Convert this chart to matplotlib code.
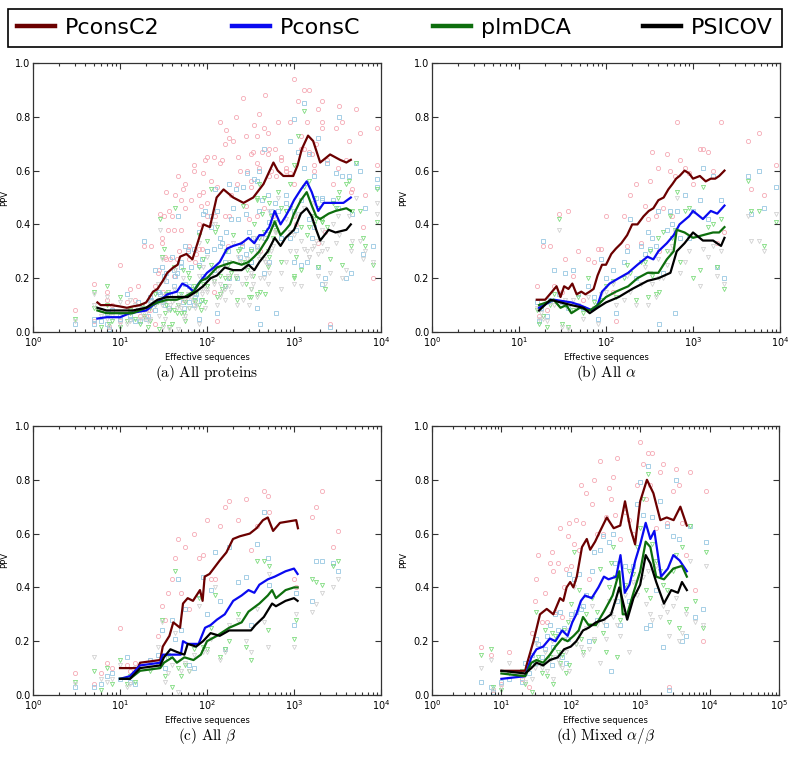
import numpy as np
import matplotlib
matplotlib.use('Agg')
import matplotlib.pyplot as plt
from matplotlib.lines import Line2D

# ---- per-protein scatter values: effective sequences and PPV of each method ----
# all-alpha proteins
alpha_neff = [16, 17, 18, 19, 21, 23, 25, 29, 31, 34, 37, 42, 48, 55, 62, 72, 80, 88, 100, 120,
              130, 160, 175, 190, 220, 250, 280, 300, 320, 340, 380, 400, 410, 450, 500, 540, 580, 620, 660, 700,
              800, 900, 1000, 1200, 1300, 1500, 1700, 1900, 2100, 2300, 4300, 4700, 5800, 6500, 9000]
alpha_pconsc2 = [0.17, 0.06, 0.10, 0.32, 0.08, 0.32, 0.17, 0.44, 0.15, 0.27, 0.45, 0.21, 0.30, 0.12, 0.27, 0.26, 0.31, 0.31, 0.43, 0.15,
                 0.04, 0.43, 0.32, 0.51, 0.55, 0.33, 0.47, 0.42, 0.56, 0.67, 0.43, 0.61, 0.30, 0.46, 0.66, 0.60, 0.43, 0.58, 0.78, 0.64,
                 0.61, 0.59, 0.55, 0.68, 0.68, 0.67, 0.60, 0.33, 0.78, 0.37, 0.71, 0.53, 0.74, 0.51, 0.62]
alpha_pconsc = [0.11, 0.04, 0.09, 0.34, 0.06, 0.12, 0.23, 0.14, 0.11, 0.22, 0.09, 0.23, 0.14, 0.09, 0.17, 0.13, 0.05, 0.27, 0.20, 0.23,
                0.07, 0.26, 0.30, 0.42, 0.20, 0.32, 0.29, 0.37, 0.31, 0.35, 0.32, 0.45, 0.03, 0.22, 0.38, 0.45, 0.40, 0.07, 0.45, 0.35,
                0.51, 0.35, 0.45, 0.49, 0.61, 0.42, 0.58, 0.24, 0.49, 0.20, 0.58, 0.44, 0.60, 0.46, 0.54]
alpha_plmdca = [0.08, 0.03, 0.10, 0.06, 0.02, 0.10, 0.14, 0.42, 0.03, 0.10, 0.02, 0.08, 0.13, 0.07, 0.20, 0.11, 0.10, 0.12, 0.17, 0.19,
                0.13, 0.20, 0.25, 0.22, 0.12, 0.26, 0.26, 0.13, 0.30, 0.21, 0.14, 0.35, 0.15, 0.37, 0.30, 0.43, 0.35, 0.38, 0.52, 0.26,
                0.45, 0.46, 0.20, 0.23, 0.54, 0.39, 0.40, 0.24, 0.42, 0.16, 0.56, 0.45, 0.45, 0.32, 0.41]
alpha_psicov = [0.09, 0.05, 0.07, 0.05, 0.04, 0.11, 0.10, 0.38, 0.02, 0.12, 0.01, 0.12, 0.10, 0.05, 0.13, 0.09, 0.03, 0.14, 0.15, 0.18,
                0.10, 0.12, 0.21, 0.15, 0.10, 0.18, 0.24, 0.10, 0.22, 0.18, 0.13, 0.27, 0.20, 0.20, 0.25, 0.30, 0.32, 0.37, 0.50, 0.22,
                0.26, 0.30, 0.36, 0.17, 0.31, 0.28, 0.32, 0.21, 0.30, 0.18, 0.43, 0.34, 0.34, 0.30, 0.44]

# all-beta proteins
beta_neff = [3, 5, 6, 7, 8, 10, 12, 13, 15, 22, 27, 30, 33, 36, 40, 43, 46, 50, 56, 62,
             70, 80, 90, 100, 110, 125, 140, 160, 180, 230, 280, 320, 380, 450, 500, 520, 1000, 1050, 1600, 1800,
             2100, 2800, 3200]
beta_pconsc2 = [0.08, 0.04, 0.08, 0.12, 0.10, 0.25, 0.11, 0.09, 0.12, 0.13, 0.22, 0.33, 0.28, 0.38, 0.43, 0.51, 0.58, 0.38, 0.55, 0.32,
                0.60, 0.51, 0.52, 0.65, 0.43, 0.43, 0.63, 0.70, 0.72, 0.65, 0.73, 0.54, 0.63, 0.76, 0.74, 0.68, 0.43, 0.40, 0.66, 0.70,
                0.76, 0.55, 0.61]
beta_pconsc = [0.03, 0.03, 0.04, 0.07, 0.08, 0.06, 0.14, 0.05, 0.04, 0.13, 0.15, 0.24, 0.10, 0.14, 0.28, 0.21, 0.43, 0.24, 0.32, 0.11,
               0.10, 0.37, 0.44, 0.30, 0.39, 0.53, 0.35, 0.17, 0.55, 0.42, 0.44, 0.26, 0.56, 0.68, 0.51, 0.41, 0.26, 0.38, 0.35, 0.50,
               0.50, 0.49, 0.46]
beta_plmdca = [0.05, 0.09, 0.02, 0.10, 0.04, 0.13, 0.04, 0.07, 0.05, 0.09, 0.11, 0.28, 0.07, 0.15, 0.03, 0.46, 0.10, 0.07, 0.11, 0.09,
               0.17, 0.36, 0.18, 0.17, 0.25, 0.37, 0.14, 0.17, 0.20, 0.30, 0.18, 0.13, 0.50, 0.50, 0.24, 0.48, 0.21, 0.28, 0.43, 0.42,
               0.41, 0.48, 0.50]
beta_psicov = [0.04, 0.14, 0.06, 0.05, 0.06, 0.11, 0.03, 0.04, 0.10, 0.10, 0.18, 0.27, 0.05, 0.08, 0.11, 0.23, 0.01, 0.09, 0.12, 0.09,
               0.15, 0.33, 0.16, 0.16, 0.21, 0.40, 0.13, 0.16, 0.26, 0.28, 0.20, 0.16, 0.32, 0.27, 0.18, 0.45, 0.18, 0.30, 0.31, 0.34,
               0.38, 0.40, 0.43]

# mixed alpha/beta proteins
mixed_neff = [5, 7, 7.5, 10, 13, 20, 22, 25, 28, 30, 32, 34, 38, 42, 45, 50, 53, 56, 60, 65,
              70, 75, 80, 85, 90, 95, 100, 110, 120, 130, 140, 150, 165, 180, 200, 215, 240, 260, 290, 320,
              350, 380, 400, 430, 470, 520, 600, 700, 800, 900, 1000, 1100, 1200, 1300, 1400, 1500, 1700, 1900, 2100, 2400,
              2600, 3000, 3300, 3600, 4000, 4500, 5200, 6200, 8000, 9000]
mixed_pconsc2 = [0.18, 0.15, 0.02, 0.04, 0.16, 0.06, 0.08, 0.03, 0.23, 0.35, 0.43, 0.52, 0.27, 0.38, 0.27, 0.49, 0.53, 0.46, 0.31, 0.49,
                 0.62, 0.29, 0.40, 0.47, 0.59, 0.64, 0.48, 0.56, 0.65, 0.54, 0.78, 0.64, 0.75, 0.43, 0.71, 0.80, 0.60, 0.87, 0.60, 0.66,
                 0.77, 0.73, 0.81, 0.67, 0.88, 0.58, 0.68, 0.65, 0.60, 0.78, 0.94, 0.86, 0.73, 0.90, 0.78, 0.90, 0.62, 0.83, 0.86, 0.64,
                 0.03, 0.76, 0.84, 0.78, 0.64, 0.52, 0.83, 0.39, 0.20, 0.76]
mixed_pconsc = [0.05, 0.03, 0.01, 0.05, 0.06, 0.05, 0.12, 0.08, 0.15, 0.12, 0.21, 0.19, 0.14, 0.17, 0.22, 0.26, 0.11, 0.18, 0.30, 0.24,
                0.31, 0.14, 0.25, 0.12, 0.21, 0.45, 0.30, 0.43, 0.31, 0.45, 0.32, 0.33, 0.37, 0.20, 0.46, 0.53, 0.28, 0.54, 0.59, 0.26,
                0.57, 0.09, 0.60, 0.49, 0.35, 0.26, 0.48, 0.35, 0.48, 0.71, 0.79, 0.67, 0.25, 0.85, 0.26, 0.66, 0.39, 0.72, 0.18, 0.63,
                0.02, 0.59, 0.80, 0.58, 0.20, 0.22, 0.63, 0.29, 0.32, 0.57]
mixed_plmdca = [0.15, 0.17, 0.03, 0.02, 0.08, 0.09, 0.04, 0.10, 0.01, 0.12, 0.31, 0.14, 0.08, 0.24, 0.07, 0.14, 0.23, 0.04, 0.22, 0.16,
                0.12, 0.15, 0.24, 0.08, 0.27, 0.11, 0.34, 0.53, 0.19, 0.39, 0.21, 0.16, 0.30, 0.26, 0.36, 0.20, 0.31, 0.47, 0.23, 0.16,
                0.40, 0.49, 0.55, 0.44, 0.14, 0.28, 0.41, 0.46, 0.45, 0.55, 0.62, 0.73, 0.39, 0.82, 0.36, 0.56, 0.50, 0.46, 0.41, 0.39,
                0.27, 0.46, 0.52, 0.25, 0.55, 0.32, 0.63, 0.35, 0.25, 0.53]
mixed_psicov = [0.10, 0.13, 0.02, 0.03, 0.12, 0.07, 0.05, 0.11, 0.06, 0.10, 0.19, 0.12, 0.10, 0.16, 0.09, 0.13, 0.20, 0.06, 0.14, 0.13,
                0.11, 0.10, 0.21, 0.16, 0.24, 0.09, 0.28, 0.40, 0.19, 0.23, 0.18, 0.15, 0.25, 0.17, 0.33, 0.21, 0.26, 0.12, 0.27, 0.21,
                0.35, 0.30, 0.29, 0.35, 0.26, 0.22, 0.37, 0.16, 0.42, 0.37, 0.43, 0.44, 0.34, 0.46, 0.30, 0.28, 0.48, 0.29, 0.33, 0.31,
                0.22, 0.33, 0.36, 0.20, 0.23, 0.30, 0.50, 0.27, 0.26, 0.48]

# ---- running averages (lines) ----
all_c2_x = [5.5, 6, 8, 10, 12, 14, 17, 20, 24, 27, 31, 35, 41, 46, 49, 58, 68, 76, 91, 108,
            129, 155, 200, 263, 340, 446, 580, 650, 755, 980, 1100, 1230, 1450, 1660, 2000, 2600, 3380, 4000, 4500]
all_c2_y = [0.11, 0.10, 0.10, 0.095, 0.09, 0.095, 0.10, 0.11, 0.15, 0.16, 0.19, 0.22, 0.24, 0.25, 0.28, 0.29, 0.27, 0.32, 0.40, 0.39,
            0.50, 0.53, 0.50, 0.48, 0.50, 0.55, 0.63, 0.60, 0.58, 0.58, 0.62, 0.68, 0.73, 0.71, 0.63, 0.66, 0.64, 0.63, 0.64]
all_pc_x = [5.5, 7, 10, 13, 20, 24, 27, 35, 45, 52, 60, 70, 80, 100, 120, 140, 170, 200, 250, 300,
            350, 400, 450, 520, 600, 700, 800, 900, 1000, 1200, 1400, 1600, 1900, 2200, 3000, 3700, 4500]
all_pc_y = [0.05, 0.055, 0.055, 0.07, 0.08, 0.10, 0.11, 0.14, 0.15, 0.18, 0.17, 0.15, 0.18, 0.22, 0.24, 0.26, 0.31, 0.32, 0.33, 0.35,
            0.33, 0.36, 0.36, 0.39, 0.45, 0.40, 0.43, 0.46, 0.49, 0.53, 0.56, 0.52, 0.45, 0.48, 0.48, 0.48, 0.50]
all_pl_x = [5.5, 7, 10, 14, 20, 27, 35, 45, 55, 70, 85, 100, 130, 160, 200, 250, 300, 350, 400, 500,
            600, 700, 800, 900, 1000, 1200, 1400, 1600, 1800, 2000, 2500, 3000, 4000, 4500]
all_pl_y = [0.08, 0.07, 0.07, 0.07, 0.09, 0.11, 0.12, 0.12, 0.13, 0.15, 0.19, 0.20, 0.24, 0.25, 0.26, 0.25, 0.26, 0.28, 0.30, 0.35,
            0.41, 0.36, 0.38, 0.40, 0.44, 0.49, 0.52, 0.47, 0.43, 0.42, 0.44, 0.45, 0.46, 0.45]
all_ps_x = [5.5, 7, 10, 14, 20, 27, 35, 45, 60, 75, 90, 110, 130, 160, 200, 250, 300, 350, 400, 500,
            600, 700, 800, 1000, 1200, 1400, 1600, 1800, 2000, 2500, 3000, 4000, 4500]
all_ps_y = [0.09, 0.08, 0.08, 0.08, 0.09, 0.12, 0.13, 0.13, 0.13, 0.15, 0.17, 0.20, 0.21, 0.24, 0.23, 0.23, 0.25, 0.23, 0.26, 0.30,
            0.35, 0.32, 0.35, 0.38, 0.44, 0.46, 0.43, 0.38, 0.34, 0.38, 0.37, 0.38, 0.40]

alpha_c2_x = [16, 20, 24, 27, 30, 33, 37, 41, 46, 52, 58, 65, 72, 80, 90, 100, 115, 130, 150, 175,
              200, 230, 270, 310, 350, 400, 460, 520, 580, 640, 700, 800, 900, 1000, 1200, 1400, 1600, 1800, 2000, 2300]
alpha_c2_y = [0.12, 0.12, 0.15, 0.17, 0.13, 0.17, 0.16, 0.18, 0.14, 0.15, 0.14, 0.15, 0.16, 0.21, 0.25, 0.25, 0.29, 0.31, 0.33, 0.36,
              0.40, 0.40, 0.43, 0.45, 0.46, 0.49, 0.50, 0.53, 0.55, 0.57, 0.58, 0.60, 0.59, 0.57, 0.58, 0.56, 0.57, 0.57, 0.58, 0.60]
alpha_pc_x = [17, 25, 40, 50, 70, 80, 90, 110, 140, 180, 230, 300, 350, 400, 500, 600, 700, 900, 1000, 1300, 1600, 1900, 2300]
alpha_pc_y = [0.09, 0.12, 0.11, 0.10, 0.08, 0.10, 0.15, 0.18, 0.20, 0.22, 0.25, 0.28, 0.27, 0.30, 0.33, 0.36, 0.40, 0.43, 0.45, 0.42,
              0.45, 0.44, 0.47]
alpha_pl_x = [17, 25, 30, 35, 40, 50, 65, 80, 100, 130, 180, 230, 300, 400, 500, 600, 650, 800, 1000, 1300, 1700, 2000, 2300]
alpha_pl_y = [0.10, 0.12, 0.09, 0.10, 0.07, 0.09, 0.08, 0.10, 0.13, 0.15, 0.17, 0.20, 0.22, 0.22, 0.27, 0.30, 0.38, 0.37, 0.35, 0.36,
              0.37, 0.37, 0.39]
alpha_ps_x = [17, 23, 30, 40, 55, 65, 80, 100, 140, 200, 300, 400, 550, 650, 800, 1000, 1300, 1700, 2100, 2300]
alpha_ps_y = [0.08, 0.12, 0.11, 0.10, 0.09, 0.07, 0.09, 0.11, 0.13, 0.16, 0.19, 0.20, 0.22, 0.30, 0.33, 0.37, 0.34, 0.34, 0.32, 0.35]

beta_c2_x = [10, 16, 17, 29, 31, 37, 41, 49, 53, 60, 69, 83, 89, 94, 107, 140, 167, 199, 238, 310,
             371, 440, 500, 575, 690, 1060, 1110]
beta_c2_y = [0.10, 0.10, 0.12, 0.13, 0.18, 0.22, 0.27, 0.25, 0.34, 0.36, 0.35, 0.39, 0.35, 0.44, 0.45, 0.50, 0.53, 0.58, 0.59, 0.60,
             0.62, 0.65, 0.66, 0.61, 0.64, 0.65, 0.62]
beta_pc_x = [10, 13, 17, 29, 31, 40, 50, 53, 60, 80, 95, 110, 130, 160, 200, 250, 300, 350, 400, 500, 600, 800, 1000, 1100]
beta_pc_y = [0.06, 0.07, 0.11, 0.12, 0.15, 0.15, 0.15, 0.20, 0.19, 0.19, 0.25, 0.26, 0.28, 0.30, 0.35, 0.37, 0.39, 0.38, 0.41, 0.43,
             0.44, 0.46, 0.47, 0.45]
beta_pl_x = [10, 13, 17, 29, 32, 40, 45, 55, 70, 85, 100, 130, 180, 250, 300, 400, 500, 560, 620, 800, 1000, 1100]
beta_pl_y = [0.06, 0.06, 0.09, 0.10, 0.12, 0.14, 0.12, 0.14, 0.13, 0.15, 0.20, 0.22, 0.25, 0.27, 0.31, 0.34, 0.37, 0.39, 0.36, 0.39,
             0.40, 0.40]
beta_ps_x = [10, 13, 17, 29, 32, 38, 45, 55, 60, 75, 90, 110, 140, 180, 250, 320, 360, 450, 560, 620, 800, 1000, 1100]
beta_ps_y = [0.06, 0.06, 0.10, 0.11, 0.14, 0.17, 0.16, 0.15, 0.19, 0.18, 0.20, 0.23, 0.22, 0.24, 0.24, 0.24, 0.26, 0.29, 0.34, 0.33,
             0.35, 0.36, 0.35]

mixed_c2_x = [10, 22, 23, 29, 36, 45, 56, 70, 78, 87, 98, 109, 122, 145, 170, 190, 224, 265, 330, 415,
              516, 604, 720, 845, 1000, 1250, 1550, 1950, 2410, 3030, 3790, 4690]
mixed_c2_y = [0.09, 0.09, 0.11, 0.20, 0.30, 0.32, 0.30, 0.36, 0.35, 0.40, 0.42, 0.40, 0.44, 0.55, 0.58, 0.54, 0.57, 0.61, 0.66, 0.62,
              0.63, 0.72, 0.62, 0.56, 0.72, 0.80, 0.75, 0.65, 0.66, 0.65, 0.70, 0.63]
mixed_pc_x = [10, 22, 27, 32, 40, 50, 60, 75, 90, 105, 120, 140, 160, 200, 250, 300, 350, 450, 520, 600,
              700, 850, 1000, 1200, 1400, 1600, 2000, 2500, 3000, 3700, 4700]
mixed_pc_y = [0.06, 0.07, 0.14, 0.17, 0.18, 0.21, 0.20, 0.24, 0.22, 0.27, 0.30, 0.35, 0.37, 0.36, 0.40, 0.44, 0.43, 0.44, 0.52, 0.38,
              0.41, 0.50, 0.56, 0.64, 0.58, 0.61, 0.44, 0.47, 0.52, 0.50, 0.46]
mixed_pl_x = [10, 22, 27, 32, 40, 50, 60, 75, 90, 110, 130, 150, 180, 230, 300, 400, 500, 560, 650, 800,
              1000, 1200, 1400, 1700, 2200, 3000, 4000, 4700]
mixed_pl_y = [0.08, 0.07, 0.12, 0.13, 0.12, 0.15, 0.18, 0.21, 0.20, 0.22, 0.24, 0.29, 0.26, 0.26, 0.31, 0.37, 0.46, 0.30, 0.30, 0.38,
              0.46, 0.57, 0.55, 0.44, 0.43, 0.47, 0.48, 0.44]
mixed_ps_x = [10, 22, 27, 32, 40, 50, 65, 80, 100, 120, 150, 180, 230, 300, 380, 450, 500, 560, 650, 800,
              1000, 1200, 1400, 1700, 2200, 2800, 3500, 4000, 4700]
mixed_ps_y = [0.09, 0.08, 0.10, 0.12, 0.11, 0.13, 0.14, 0.17, 0.18, 0.20, 0.24, 0.25, 0.27, 0.28, 0.30, 0.36, 0.40, 0.35, 0.28, 0.36,
              0.41, 0.52, 0.49, 0.42, 0.34, 0.39, 0.38, 0.42, 0.39]

methods = ['PconsC2', 'PconsC', 'plmDCA', 'PSICOV']
line_colors = ['#6b0000', '#0a0af0', '#0d6e0d', '#000000']
dot_colors = ['#f5aab5', '#98c8e2', '#80dc80', '#d2d2d2']
dot_markers = ['o', 's', 'v', 'v']

W, H = 791.0, 761.0


def draw_panel(fig, rect, neff, ppvs, lines, xmax, caption, cap_pos):
	ax = fig.add_axes(rect)
	for y, c, m in zip(ppvs, dot_colors, dot_markers):
		ax.plot(neff, y, ls='none', marker=m, ms=3.0, mfc='none', mec=c, mew=0.6, zorder=1)
	for (x, y), c in zip(lines, line_colors):
		ax.plot(x, y, color=c, lw=1.6, zorder=3)
	ax.set_xscale('log')
	ax.set_xlim(1, xmax)
	ax.set_ylim(0, 1)
	ax.set_yticks(np.arange(0, 1.01, 0.2))
	ax.tick_params(which='both', direction='in', top=True, right=True, color='#333333', width=0.8)
	ax.tick_params(which='major', length=4, labelsize=7, pad=2)
	ax.tick_params(which='minor', length=2)
	for s in ax.spines.values():
		s.set_color('#333333')
		s.set_linewidth(0.9)
	ax.set_xlabel('Effective sequences', fontsize=6, labelpad=3)
	ax.set_ylabel('PPV', fontsize=6, labelpad=4)
	fig.text(cap_pos[0] / W, 1 - cap_pos[1] / H, caption, ha='center', va='center',
		fontsize=11, math_fontfamily='cm')
	return ax


def main():
	fig = plt.figure(figsize=(7.91, 7.61), dpi=100)
	aw, ah = 348 / W, 269 / H

	all_neff = alpha_neff + beta_neff + mixed_neff
	all_ppvs = [alpha_pconsc2 + beta_pconsc2 + mixed_pconsc2,
		alpha_pconsc + beta_pconsc + mixed_pconsc,
		alpha_plmdca + beta_plmdca + mixed_plmdca,
		alpha_psicov + beta_psicov + mixed_psicov]

	draw_panel(fig, [33 / W, 1 - 332 / H, aw, ah], all_neff, all_ppvs,
		[(all_c2_x, all_c2_y), (all_pc_x, all_pc_y), (all_pl_x, all_pl_y), (all_ps_x, all_ps_y)],
		1e4, r'$\mathrm{(a)\ All\ proteins}$', (207, 373))
	draw_panel(fig, [432 / W, 1 - 332 / H, aw, ah], alpha_neff,
		[alpha_pconsc2, alpha_pconsc, alpha_plmdca, alpha_psicov],
		[(alpha_c2_x, alpha_c2_y), (alpha_pc_x, alpha_pc_y), (alpha_pl_x, alpha_pl_y), (alpha_ps_x, alpha_ps_y)],
		1e4, r'$\mathrm{(b)\ All}\ \alpha$', (606, 373))
	draw_panel(fig, [33 / W, 1 - 695 / H, aw, ah], beta_neff,
		[beta_pconsc2, beta_pconsc, beta_plmdca, beta_psicov],
		[(beta_c2_x, beta_c2_y), (beta_pc_x, beta_pc_y), (beta_pl_x, beta_pl_y), (beta_ps_x, beta_ps_y)],
		1e4, r'$\mathrm{(c)\ All}\ \beta$', (207, 736))
	draw_panel(fig, [432 / W, 1 - 695 / H, 347 / W, ah], mixed_neff,
		[mixed_pconsc2, mixed_pconsc, mixed_plmdca, mixed_psicov],
		[(mixed_c2_x, mixed_c2_y), (mixed_pc_x, mixed_pc_y), (mixed_pl_x, mixed_pl_y), (mixed_ps_x, mixed_ps_y)],
		1e5, r'$\mathrm{(d)\ Mixed}\ \alpha/\beta$', (606, 736))

	handles = [Line2D([], [], color=c, lw=3.2) for c in line_colors]
	leg = fig.legend(handles, methods, loc='lower left',
		bbox_to_anchor=(8 / W, 1 - 47 / H, 774 / W, 44 / H), ncol=4, mode='expand',
		borderaxespad=0, fontsize=16, handlelength=1.7, handletextpad=0.45,
		fancybox=False, framealpha=1, edgecolor='black')
	leg.get_frame().set_linewidth(1.2)

	fig.savefig('out.png', dpi=100)


if __name__ == '__main__':
	main()
